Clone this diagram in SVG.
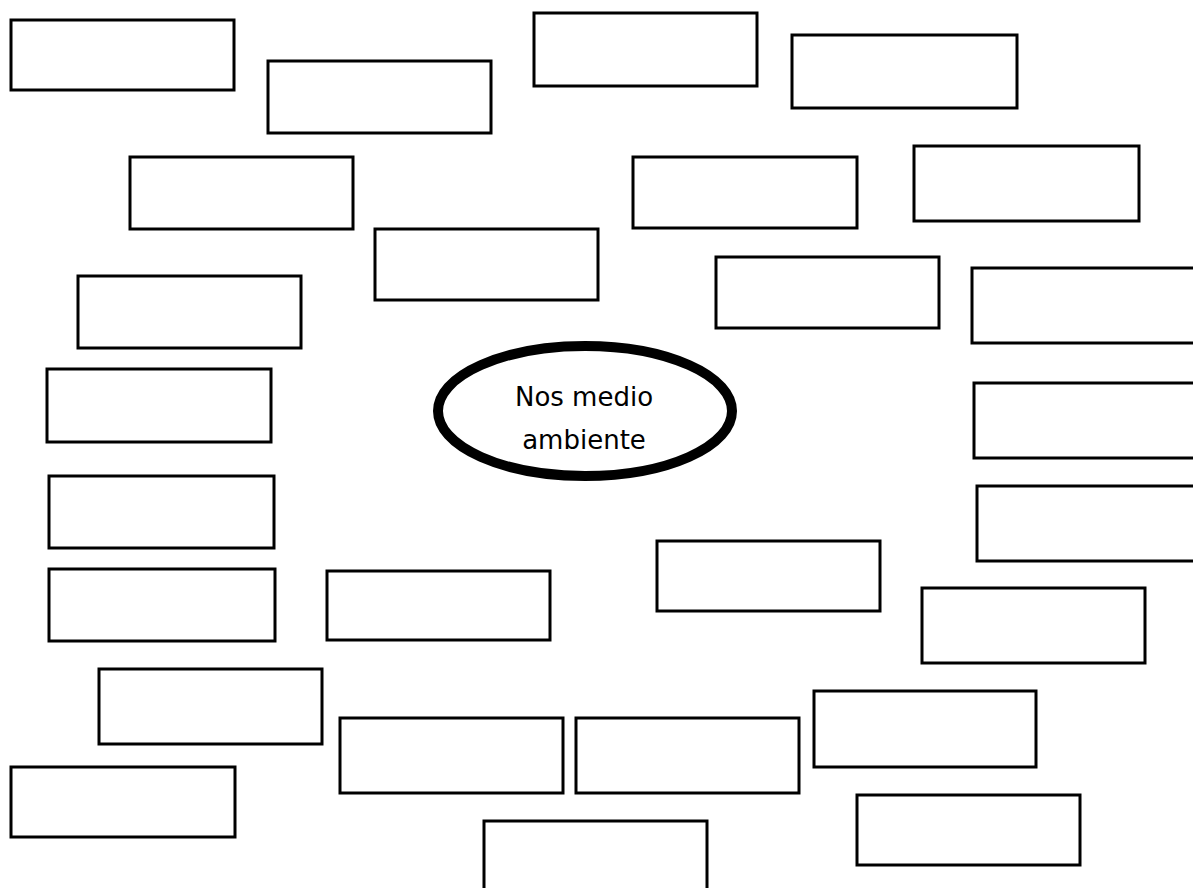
<svg xmlns="http://www.w3.org/2000/svg" width="1193" height="888" viewBox="0 0 1193 888">
<style>
.box{fill:#fff;stroke:#000;stroke-width:3}
.oval{fill:#fff;stroke:#000;stroke-width:10}
.lbl{font-family:"DejaVu Sans","Liberation Sans",sans-serif;font-size:26px;fill:#000;text-anchor:middle}
</style>
<rect width="1193" height="888" fill="#fff"/>
<g id="connectors"></g>
<g id="center">
<ellipse class="oval" cx="585" cy="411" rx="147" ry="65"/>
<text class="lbl" x="584" y="406">Nos medio</text>
<text class="lbl" x="584" y="449">ambiente</text>
</g>
<g id="n1"><rect class="box" x="11" y="20" width="223" height="70"/></g>
<g id="n2"><rect class="box" x="268" y="61" width="223" height="72"/></g>
<g id="n3"><rect class="box" x="534" y="13" width="223" height="73"/></g>
<g id="n4"><rect class="box" x="792" y="35" width="225" height="73"/></g>
<g id="n5"><rect class="box" x="130" y="157" width="223" height="72"/></g>
<g id="n6"><rect class="box" x="633" y="157" width="224" height="71"/></g>
<g id="n7"><rect class="box" x="914" y="146" width="225" height="75"/></g>
<g id="n8"><rect class="box" x="375" y="229" width="223" height="71"/></g>
<g id="n9"><rect class="box" x="78" y="276" width="223" height="72"/></g>
<g id="n10"><rect class="box" x="716" y="257" width="223" height="71"/></g>
<g id="n11"><rect class="box" x="972" y="268" width="230" height="75"/></g>
<g id="n12"><rect class="box" x="47" y="369" width="224" height="73"/></g>
<g id="n13"><rect class="box" x="974" y="383" width="230" height="75"/></g>
<g id="n14"><rect class="box" x="49" y="476" width="225" height="72"/></g>
<g id="n15"><rect class="box" x="977" y="486" width="230" height="75"/></g>
<g id="n16"><rect class="box" x="49" y="569" width="226" height="72"/></g>
<g id="n17"><rect class="box" x="327" y="571" width="223" height="69"/></g>
<g id="n18"><rect class="box" x="657" y="541" width="223" height="70"/></g>
<g id="n19"><rect class="box" x="922" y="588" width="223" height="75"/></g>
<g id="n20"><rect class="box" x="99" y="669" width="223" height="75"/></g>
<g id="n21"><rect class="box" x="340" y="718" width="223" height="75"/></g>
<g id="n22"><rect class="box" x="576" y="718" width="223" height="75"/></g>
<g id="n23"><rect class="box" x="814" y="691" width="222" height="76"/></g>
<g id="n24"><rect class="box" x="11" y="767" width="224" height="70"/></g>
<g id="n25"><rect class="box" x="857" y="795" width="223" height="70"/></g>
<g id="n26"><rect class="box" x="484" y="821" width="223" height="75"/></g>
</svg>
